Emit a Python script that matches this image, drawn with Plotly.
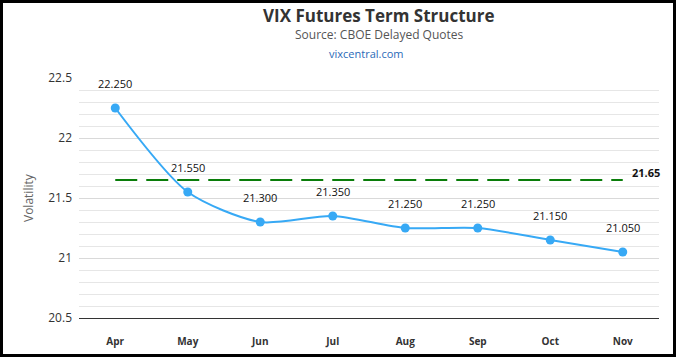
import plotly.graph_objects as go

months = ["Apr", "May", "Jun", "Jul", "Aug", "Sep", "Oct", "Nov"]
futures = [22.25, 21.55, 21.30, 21.35, 21.25, 21.25, 21.15, 21.05]
vix_spot = 21.65
y_range = [20.5, 22.5]

L, R, T, B = 79, 17, 78, 39
W, H = 676, 357
pw, ph = W - L - R, H - T - B

fig = go.Figure()
fig.add_trace(go.Scatter(
    x=months, y=[vix_spot] * len(months), mode="lines",
    line=dict(color="#0a7d0a", width=2, dash="22px,9px"),
    hoverinfo="skip", showlegend=False))
fig.add_trace(go.Scatter(
    x=months, y=futures, mode="lines+markers",
    line=dict(color="#37a9f5", width=2, shape="spline", smoothing=0.75),
    marker=dict(color="#37a9f5", size=9),
    showlegend=False))

annotations = []
for m, v in zip(months, futures):
    annotations.append(dict(x=m, y=v, text=f"{v:.3f}", showarrow=False,
                            yshift=25, font=dict(size=11, color="#111")))
annotations.append(dict(x=months[-1], y=vix_spot, text=f"<b>{vix_spot}</b>",
                        showarrow=False, xanchor="left", xshift=7, yshift=8,
                        font=dict(size=11, color="#111")))


def px_x(p):
    return (p - L) / pw


def px_y(p):
    return (H - B - p) / ph


def label(x, y, text, size, color, angle=0):
    return dict(x=px_x(x), y=px_y(y), xref="paper", yref="paper", showarrow=False,
                xanchor="center", yanchor="middle", text=text, textangle=angle,
                font=dict(size=size, color=color))


annotations += [
    label(379, 15, "<b>VIX Futures Term Structure</b>", 17, "#333"),
    label(379, 35, "Source: CBOE Delayed Quotes", 12, "#555"),
    label(366, 54, "vixcentral.com", 11, "#2a6ab8"),
    label(28, 198, "Volatility", 12, "#666", -90),
]

fig.update_layout(
    width=W, height=H,
    margin=dict(l=L, r=R, t=T, b=B, autoexpand=False),
    paper_bgcolor="white", plot_bgcolor="white",
    font=dict(family="Open Sans, Noto Sans, sans-serif", color="#333"),
    annotations=annotations,
    shapes=[dict(type="rect", xref="paper", yref="paper",
                 x0=px_x(1.5), x1=px_x(W - 1.5), y0=px_y(H - 1.5), y1=px_y(1.5),
                 line=dict(color="black", width=3), layer="above")],
    xaxis=dict(type="category", range=[-0.5, len(months) - 0.5], automargin=False,
               showgrid=False, showline=True, linecolor="#333", linewidth=1,
               ticks="", ticklabelstandoff=14,
               tickfont=dict(size=10, color="#333", weight="bold")),
    yaxis=dict(range=y_range, dtick=0.5, tick0=20.5, showgrid=True, automargin=False,
               gridcolor="#d9d9d9", gridwidth=1, zeroline=False,
               tickfont=dict(size=12, color="#333"), ticklabelstandoff=6,
               minor=dict(dtick=0.1, showgrid=True, gridcolor="#e6e6e6", gridwidth=1)),
)

fig.write_html("out.html", config={"displayModeBar": False, "responsive": False})

with open("out.html", "r", encoding="utf-8") as f:
    html = f.read()
html = html.replace("<head>", "<head><style>html,body{margin:0;padding:0;overflow:hidden;}</style>", 1)
with open("out.html", "w", encoding="utf-8") as f:
    f.write(html)
